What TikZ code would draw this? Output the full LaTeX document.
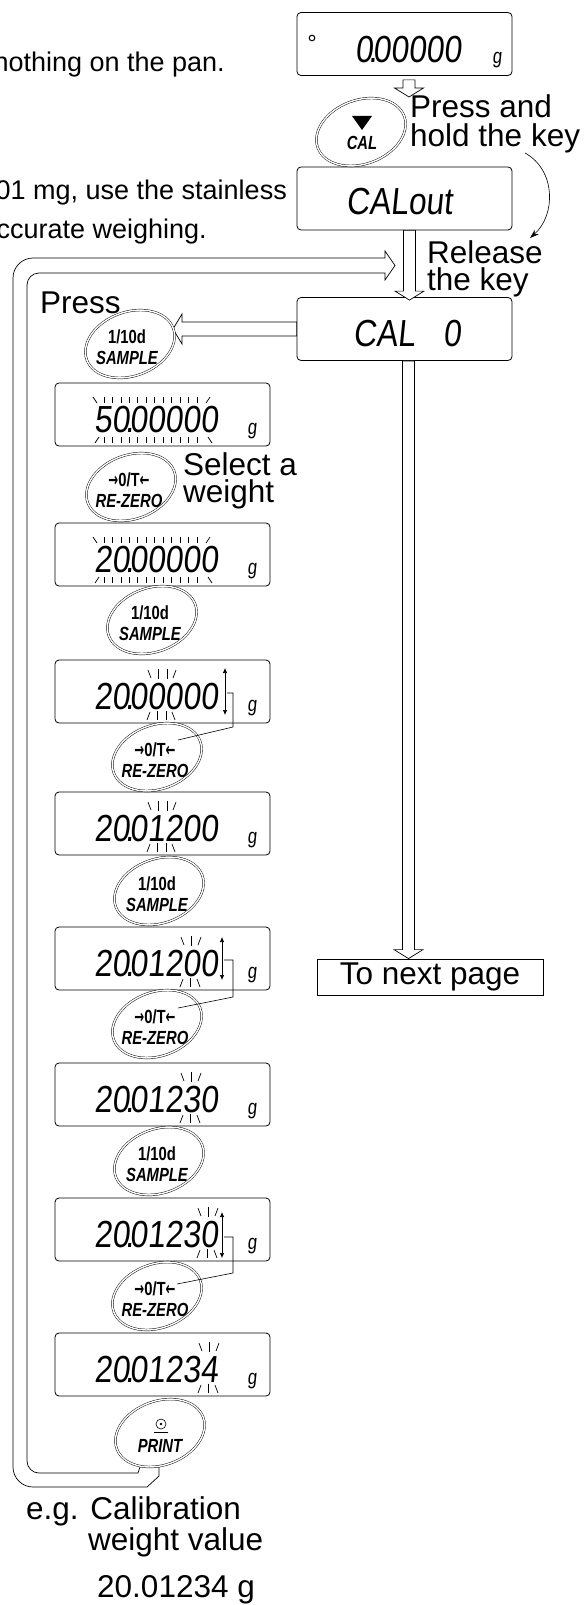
\documentclass[tikz,border=0pt]{standalone}
\usepackage{fontspec}
\setmainfont{Liberation Sans}
\newfontfamily\lcdfont{Liberation Sans}[FakeSlant=0.1,FakeStretch=0.843]
\newfontfamily\unitfont{Liberation Sans}[FakeSlant=0.1,FakeStretch=0.8]
\newfontfamily\keyfont{Liberation Sans}[FakeStretch=0.78]
\newfontfamily\arrowfont{DejaVu Sans}[FakeStretch=0.62]
\usetikzlibrary{calc,arrows.meta}

\tikzset{
  disp/.style={draw, rounded corners=4pt, minimum width=215pt, minimum height=63pt, inner sep=0pt, line width=0.8pt, fill=white},
  lbl/.style={inner sep=0pt, font=\fontsize{31.5}{31.5}\selectfont, anchor=base west},
  lbltwo/.style={inner sep=0pt, align=left, font=\fontsize{31.5}{27}\selectfont, anchor=base west},
  body/.style={inner sep=0pt, font=\fontsize{27}{27}\selectfont, anchor=base east},
  seg/.style={inner sep=0pt, font=\lcdfont\fontsize{37.7}{37.7}\selectfont, anchor=base west},
  unit/.style={inner sep=0pt, font=\unitfont\fontsize{21}{21}\selectfont, anchor=base},
  keyring/.style={draw, fill=white, line width=0.45pt, double=white, double distance=1.4pt},
  keytxt/.style={inner sep=0pt, align=center, font=\keyfont\bfseries\fontsize{19}{20.5}\selectfont},
  hollow/.style={draw, fill=white, line width=0.7pt, line join=miter},
  tick/.style={line width=0.7pt},
  thinline/.style={line width=0.6pt},
  updn/.style={line width=0.7pt, {Latex[length=5pt,width=4.5pt]}-{Latex[length=5pt,width=4.5pt]}},
}

\newcommand\dotk{\kern-4.5pt.\kern-4.3pt}
\newcommand\zt{{\arrowfont\bfseries →}0/T{\arrowfont\bfseries ←}}
\newcommand\hdown[2]{\path[hollow] ($(#1)+(-6,0)$) -- ($(#2)+(-6,-9)$) -- ($(#2)+(-14.5,-9)$) -- (#2) -- ($(#2)+(14.5,-9)$) -- ($(#2)+(6,-9)$) -- ($(#1)+(6,0)$) -- cycle;}
\newcommand\hleft[2]{\path[hollow] ($(#1)+(0,-7)$) -- ($(#2)+(9,-7)$) -- ($(#2)+(9,-15)$) -- (#2) -- ($(#2)+(9,15)$) -- ($(#2)+(9,7)$) -- ($(#1)+(0,7)$) -- cycle;}
\newcommand\keyshape[1]{\draw[keyring, rotate around={20:(#1)}] (#1) ellipse [x radius=46pt, y radius=32pt];}
\newcommand\blinkall[1]{\begin{scope}[shift={(0,#1)}]
  \draw[tick] (93,14) -- (97,20);
  \draw[tick] (210,14) -- (206,20);
  \draw[tick] (95,60) -- (99,54);
  \draw[tick] (212,60) -- (208,54);
  \foreach \x in {104,112.45,...,198} {\draw[tick] (\x,14) -- (\x,20); \draw[tick] (\x,54) -- (\x,60);}
\end{scope}}
\newcommand\blinkone[2]{\begin{scope}[shift={(#2,#1)}]
  \draw[tick] (-10,10) -- (-7,18);
  \draw[tick] (0,9) -- (0,19);
  \draw[tick] (10,10) -- (7,18);
  \draw[tick] (-11,60) -- (-8,52);
  \draw[tick] (-1,51) -- (-1,60);
  \draw[tick] (9,60) -- (6,52);
\end{scope}}
\newcommand\blinkfour[2]{\begin{scope}[shift={(#2,#1)}]
  \draw[tick] (-14,10) -- (-11,18);
  \draw[tick] (-4,9) -- (-4,19);
  \draw[tick] (5,9) -- (5,19);
  \draw[tick] (14,10) -- (11,18);
  \draw[tick] (-15,60) -- (-12,52);
  \draw[tick] (-5,51) -- (-5,60);
  \draw[tick] (4,51) -- (4,60);
  \draw[tick] (13,60) -- (10,52);
\end{scope}}

\begin{document}
\begin{tikzpicture}[x=1pt,y=-1pt]
\useasboundingbox (0,0) rectangle (584,1605);

% ---------- key centres
\coordinate (cCAL) at (361,132);
\coordinate (cS1) at (130,344);
\coordinate (cR1) at (131,487);
\coordinate (cS2) at (152,620);
\coordinate (cR2) at (157,757);
\coordinate (cS3) at (159,891);
\coordinate (cR3) at (157,1024);
\coordinate (cS4) at (159,1161);
\coordinate (cR4) at (157,1296);
\coordinate (cP) at (160,1433);

% ---------- return band (hollow arrow from PRINT back to the top)
\coordinate (bandA) at (143,1458);
\coordinate (bandB) at (159,1458);
\coordinate (bandTip) at (395,265.5);
\path[hollow] (bandA) -- (138,1473) -- (39,1473) .. controls (32.4,1473) and (27,1467.6) .. (27,1461)
  -- (27,285) .. controls (27,278.4) and (32.4,273) .. (39,273) -- (385,273) -- (385,280)
  -- (bandTip) -- (385,251) -- (385,258) -- (33,258) .. controls (22,258) and (13,267) .. (13,278)
  -- (13,1467) .. controls (13,1478) and (22,1487) .. (33,1487) -- (147,1487) -- (159,1476) -- (bandB);

% ---------- background text
\node[body] (bt1) at (225,72) {nothing on the pan.};
\node[body] (bt2) at (287,200) {01 mg, use the stainless};
\node[body] (bt3) at (207,239) {ccurate weighing.};

% ---------- right column displays
\node[disp] (d0) at (404.5,44) {};
\node[disp] (dco) at (404.5,198.5) {};
\node[disp] (dc0) at (404.5,329) {};
\node[draw, line width=0.8pt, minimum width=226pt, minimum height=36pt, inner sep=0pt,
      font=\fontsize{31.5}{31.5}\selectfont] (next) at (430,977) {To next page};

\draw[line width=1pt] (312,38) circle (2.8pt);
\node[seg] (t0) at (355,63) {0\dotk 00000};
\node[unit] (g0) at (497,64) {g};
\node[seg] (tco) at (346,215) {CALout};
\node[seg] (tc0) at (353,346) {CAL\hspace*{28pt}0};

% ---------- left column displays
\node[disp] (L1) at (162.5,414.5) {};
\node[disp] (L2) at (162.5,554.5) {};
\node[disp] (L3) at (162.5,691.5) {};
\node[disp] (L4) at (162.5,823.5) {};
\node[disp] (L5) at (162.5,958.5) {};
\node[disp] (L6) at (162.5,1094.5) {};
\node[disp] (L7) at (162.5,1229.5) {};
\node[disp] (L8) at (162.5,1364.5) {};

\node[seg] (t1) at (94,432) {50\dotk 00000};
\node[seg] (t2) at (94,572) {20\dotk 00000};
\node[seg] (t3) at (94,709) {20\dotk 00000};
\node[seg] (t4) at (94,841) {20\dotk 01200};
\node[seg] (t5) at (94,976) {20\dotk 01200};
\node[seg] (t6) at (94,1112) {20\dotk 01230};
\node[seg] (t7) at (94,1247) {20\dotk 01230};
\node[seg] (t8) at (94,1382) {20\dotk 01234};
\foreach \n/\t in {1/383,2/523,3/660,4/792,5/927,6/1063,7/1198,8/1333}
  {\node[unit] (g\n) at (252,\t+51) {g};}

\blinkall{383}
\blinkall{523}
\blinkfour{660}{162}
\blinkfour{792}{162}
\blinkone{927}{191}
\blinkone{1063}{191}
\blinkone{1198}{208}
\blinkone{1333}{209}

% ---------- hollow arrows
\coordinate (a0s) at ($(d0.south)+(4.5,4)$);
\coordinate (a0e) at ($(cCAL)+(48,-35)$);
\hdown{a0s}{a0e}
\coordinate (a1s) at ($(dco.south)+(5,0)$);
\coordinate (a1e) at ($(dc0.north)+(5,3)$);
\hdown{a1s}{a1e}
\coordinate (a2s) at ($(dc0.south)+(4,0)$);
\coordinate (a2e) at ($(next.north)+(-21.5,0)$);
\hdown{a2s}{a2e}
\coordinate (a3s) at (dc0.west);
\coordinate (a3e) at ($(cS1)+(43,-15)$);
\hleft{a3s}{a3e}

% ---------- keys
\keyshape{cCAL}
\keyshape{cS1}
\keyshape{cR1}
\keyshape{cS2}
\keyshape{cR2}
\keyshape{cS3}
\keyshape{cR3}
\keyshape{cS4}
\keyshape{cR4}
\keyshape{cP}

\fill (352,116) -- (372,116) -- (362,130) -- cycle;
\node[keytxt] (kCAL) at (362,143) {\itshape CAL};
\node[keytxt] (kS1) at ($(cS1)+(-3,3)$) {1/10d\\\itshape SAMPLE};
\node[keytxt] (kR1) at ($(cR1)+(-2,3)$) {\zt\\\itshape RE-ZERO};
\node[keytxt] (kS2) at ($(cS2)+(-2,3)$) {1/10d\\\itshape SAMPLE};
\node[keytxt] (kR2) at ($(cR2)+(-2,3)$) {\zt\\\itshape RE-ZERO};
\node[keytxt] (kS3) at ($(cS3)+(-2,3)$) {1/10d\\\itshape SAMPLE};
\node[keytxt] (kR3) at ($(cR3)+(-2,3)$) {\zt\\\itshape RE-ZERO};
\node[keytxt] (kS4) at ($(cS4)+(-2,3)$) {1/10d\\\itshape SAMPLE};
\node[keytxt] (kR4) at ($(cR4)+(-2,3)$) {\zt\\\itshape RE-ZERO};
\draw[thinline] (161,1424) circle (5pt);
\fill (161,1424) circle (1.3pt);
\draw[thinline] (154,1432) -- (168,1432);
\node[keytxt] (kP) at (160,1446) {\itshape PRINT};

% ---------- up/down arrows and their leaders to RE-ZERO
\draw[updn] (225,668) -- (225,715);
\coordinate (u3) at (227,693);
\coordinate (r2t) at ($(cR2)+(21,-17)$);
\draw[thinline] (u3) -- ++(6,0) -- ++(0,34) -- (r2t);

\draw[updn] (222,937) -- (222,980);
\coordinate (u5) at (224,960);
\coordinate (r3t) at ($(cR3)+(21,-16)$);
\draw[thinline] (u5) -- ++(9,0) -- ++(0,37) -- (r3t);

\draw[updn] (222,1212) -- (222,1258);
\coordinate (u7) at (224,1237);
\coordinate (r4t) at ($(cR4)+(20,-12)$);
\draw[thinline] (u7) -- ++(9,0) -- ++(0,36) -- (r4t);

% ---------- curved arrow
\coordinate (cs) at (525,153);
\coordinate (ce) at (530,238);
\draw[thinline, -{Stealth[length=9pt,width=6pt]}] (cs) .. controls (556,170) and (556,215) .. (ce);

% ---------- labels
\node[lbl] (l1) at (410,118) {Press and};
\node[lbl] (l2) at (410,147) {hold the key};
\node[lbltwo] (l3) at (427,290) {Release\\the key};
\node[lbl] (l5) at (40,313) {Press};
\node[lbltwo] (l6) at (183,502) {Select a\\weight};
\node[lbl] (l8) at (26,1519) {e.g. Calibration};
\node[lbl] (l9) at (88,1550) {weight value};
\node[lbl] (l10) at (97,1597) {20.01234 g};
\end{tikzpicture}
\end{document}
